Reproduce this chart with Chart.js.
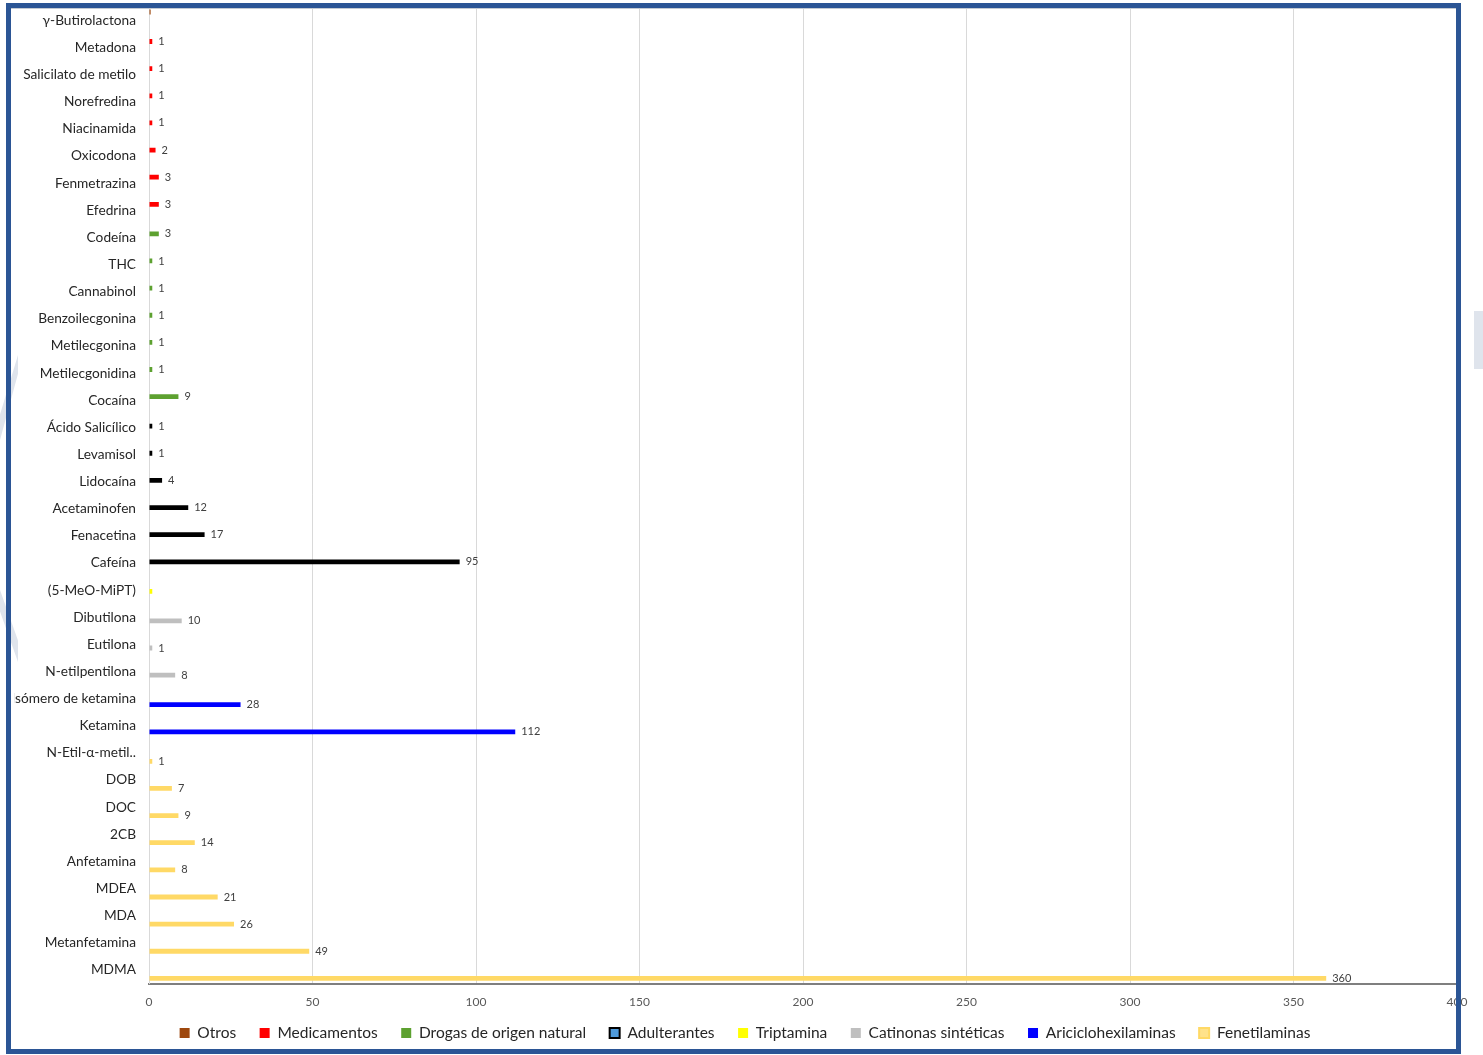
<!DOCTYPE html>
<html lang="es">
<head>
<meta charset="utf-8">
<title>Sustancias identificadas por grupo</title>
<script src="https://cdn.jsdelivr.net/npm/chart.js@4/dist/chart.umd.min.js"></script>
<style>
  html, body { margin: 0; padding: 0; background: #fff; }
  #wrap { position: relative; width: 1483px; height: 1055px; overflow: hidden; }
  #chart { position: absolute; left: 0; top: 0; }
  .frame {
    position: absolute; left: 6px; top: 3px; width: 1445px; height: 1041px;
    border: 5px solid #2b5595; box-shadow: inset 0 1px 0 #c3c9d1; pointer-events: none;
  }
  .mark { position: absolute; background: #dfe4ec; }
  .m1 { left: 0; top: 355px; width: 18px; height: 85px; clip-path: polygon(100% 0, 100% 22%, 0 100%, 0 70%); }
  .m2 { left: 0; top: 590px; width: 18px; height: 72px; clip-path: polygon(0 0, 0 30%, 100% 100%, 100% 70%); }
  .m3 { left: 1474px; top: 311px; width: 9px; height: 58px; }
</style>
</head>
<body>
<div id="wrap">
  <div class="mark m1"></div>
  <div class="mark m2"></div>
  <div class="mark m3"></div>
  <canvas id="chart" width="1483" height="1055"></canvas>
  <div class="frame"></div>
</div>
<script>
// Substances, top to bottom
const categories = [
  'γ-Butirolactona', 'Metadona', 'Salicilato de metilo', 'Norefredina', 'Niacinamida',
  'Oxicodona', 'Fenmetrazina', 'Efedrina', 'Codeína', 'THC', 'Cannabinol',
  'Benzoilecgonina', 'Metilecgonina', 'Metilecgonidina', 'Cocaína', 'Ácido Salicílico',
  'Levamisol', 'Lidocaína', 'Acetaminofen', 'Fenacetina', 'Cafeína', '(5-MeO-MiPT)',
  'Dibutilona', 'Eutilona', 'N-etilpentilona', 'Isómero de ketamina', 'Ketamina',
  'N-Etil-α-metil..', 'DOB', 'DOC', '2CB', 'Anfetamina', 'MDEA', 'MDA',
  'Metanfetamina', 'MDMA'
];

// Number of detections per substance
const counts = [
  0.5, 1, 1, 1, 1,
  2, 3, 3, 3, 1, 1,
  1, 1, 1, 9, 1,
  1, 4, 12, 17, 95, 1,
  10, 1, 8, 28, 112,
  1, 7, 9, 14, 8, 21, 26,
  49, 360
];

// Group each substance belongs to (index into seriesNames)
const groupIndex = [
  0, 1, 1, 1, 1, 1, 1, 1,
  2, 2, 2, 2, 2, 2, 2,
  3, 3, 3, 3, 3, 3,
  4,
  5, 5, 5,
  6, 6,
  7, 7, 7, 7, 7, 7, 7, 7, 7
];

const seriesNames = [
  'Otros', 'Medicamentos', 'Drogas de origen natural', 'Adulterantes',
  'Triptamina', 'Catinonas sintéticas', 'Ariciclohexilaminas', 'Fenetilaminas'
];
const seriesColors = [
  '#9e480e', '#ff0000', '#5da130', '#000000',
  '#ffff00', '#bfbfbf', '#0000ff', '#ffd966'
];
// Legend swatches (fill, border) where they differ from the bars
const legendFill = { 'Adulterantes': ['#4f9bdc', '#000000'], 'Fenetilaminas': ['#ffe28a', '#ffd966'] };

// Series whose value is not printed next to the bar
const unlabeledSeries = ['Otros', 'Triptamina'];

const xTicks = { min: 0, max: 400, step: 50 };

const datasets = seriesNames.map((name, s) => ({
  label: name,
  data: counts.map((v, i) => (groupIndex[i] === s ? v : null)),
  backgroundColor: seriesColors[s],
  borderWidth: 0
}));

const FONT = 'Lato, "Open Sans", sans-serif';

// Prints each value just right of its bar
const valueLabels = {
  id: 'valueLabels',
  afterDatasetsDraw(chart) {
    const ctx = chart.ctx;
    ctx.save();
    ctx.font = '11px ' + FONT;
    ctx.fillStyle = '#404040';
    ctx.textBaseline = 'middle';
    ctx.textAlign = 'left';
    chart.data.datasets.forEach((ds, di) => {
      if (unlabeledSeries.includes(ds.label)) return;
      const meta = chart.getDatasetMeta(di);
      meta.data.forEach((el, i) => {
        const v = ds.data[i];
        if (v === null || v === undefined) return;
        ctx.fillText(String(v), el.x + 6, el.y);
      });
    });
    ctx.restore();
  }
};

const LEFT_PAD = 33;

new Chart(document.getElementById('chart'), {
  type: 'bar',
  data: { labels: categories, datasets },
  plugins: [valueLabels],
  options: {
    indexAxis: 'y',
    responsive: false,
    animation: false,
    layout: { padding: { left: LEFT_PAD, right: 26, top: 6.5, bottom: 4.25 } },
    datasets: { bar: { categoryPercentage: 0.71, barPercentage: 2.0 } },
    scales: {
      x: {
        min: xTicks.min,
        max: xTicks.max,
        ticks: { stepSize: xTicks.step, color: '#595959', font: { family: FONT, size: 12 }, padding: 11 },
        grid: { color: '#d9d9d9', lineWidth: 1, drawTicks: false },
        border: { color: '#7f7f7f', width: 2 },
        afterFit(scale) {
          scale.height = 18.25;
          // tick labels may extend below the slim axis box
          scale._computeLabelArea = () => undefined;
        }
      },
      y: {
        ticks: { color: '#262626', font: { family: FONT, size: 13.7, lineHeight: 1 }, padding: 0, autoSkip: false },
        grid: { color: 'rgba(0,0,0,0)', tickColor: 'rgba(0,0,0,0)', drawOnChartArea: false, drawTicks: true, tickLength: 13 },
        border: { color: '#d9d9d9', width: 1 },
        afterFit(scale) {
          scale.width = 149 - LEFT_PAD;
          // long names run left of the axis box, up to the inner edge of the frame
          scale._computeLabelArea = () => ({ top: 0, left: 14, bottom: scale.chart.height, right: scale.right });
        }
      }
    },
    plugins: {
      tooltip: { enabled: false },
      legend: {
        position: 'bottom',
        labels: {
          boxWidth: 10,
          boxHeight: 10,
          padding: 23.5,
          color: '#262626',
          font: { family: FONT, size: 15.5 },
          generateLabels(chart) {
            return chart.data.datasets.map((ds, i) => {
              const custom = legendFill[ds.label];
              return {
                text: ds.label,
                fillStyle: custom ? custom[0] : ds.backgroundColor,
                strokeStyle: custom ? custom[1] : ds.backgroundColor,
                lineWidth: custom ? 2 : 0,
                fontColor: '#262626',
                hidden: false,
                datasetIndex: i
              };
            });
          }
        }
      }
    }
  }
});
</script>
</body>
</html>
